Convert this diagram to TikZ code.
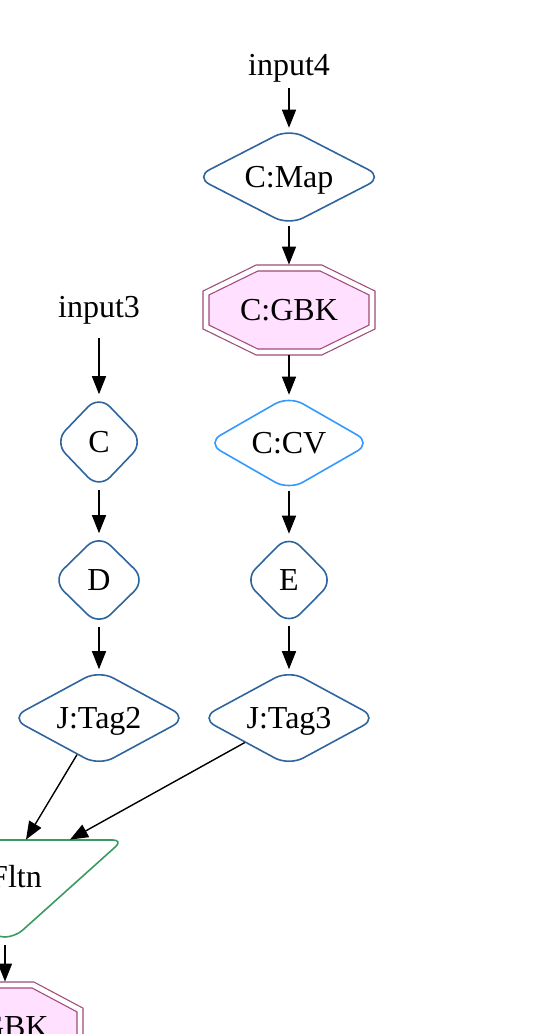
\documentclass[tikz,border=0pt]{standalone}
\usepackage{fontspec}
\setmainfont{Liberation Serif}
\usetikzlibrary{shapes.geometric,arrows.meta}
\definecolor{dblue}{HTML}{2F659E}
\definecolor{lblue}{HTML}{3399FF}
\definecolor{gbkline}{HTML}{A04A78}
\definecolor{pinkf}{HTML}{FFE0FF}
\definecolor{fgreen}{HTML}{3A9A62}
\tikzset{
  every node/.style={font=\fontsize{16}{19}\selectfont, text height=10.6pt, text depth=0pt, inner sep=0pt},
  rdia/.style={diamond, aspect=2, draw=dblue, line width=0.8pt, rounded corners=8pt},
  conn/.style={-{Triangle[length=9pt,width=7pt]}, line width=0.7pt},
  octa/.style={fill=pinkf, draw=gbkline, double=white, double distance=2.4pt, line width=0.6pt},
  gbkbox/.style={rectangle, minimum width=86pt, minimum height=45pt},
  inp/.style={anchor=base, text depth=3pt},
  fltnshape/.style={draw=fgreen, line width=0.8pt, rounded corners=5pt},
}
\newcommand\octo[5]{%
  \filldraw[octa, shift={#1}] (-#3,-#4) -- (#3,-#4) -- (#2,-#5) -- (#2,#5) -- (#3,#4) -- (-#3,#4) -- (-#2,#5) -- (-#2,-#5) -- cycle;}
\begin{document}
\begin{tikzpicture}[x=0.5pt, y=-0.5pt]
\useasboundingbox (0,0) rectangle (536,1034);
\clip (0,0) rectangle (536,1034);
% right column
\node[inp, inner ysep=3.5pt] (in4) at (289,75) {input4};
\node[rdia, minimum width=94pt, minimum height=48.5pt] (map) at (289,177) {C:Map};
\octo{(289,310)}{83}{32}{42}{17}
\node[gbkbox] (gbk1) at (289,310) {C:GBK};
\node[rdia, draw=lblue, minimum width=82.5pt, minimum height=47.5pt] (cv) at (289,443) {C:CV};
\node[rdia, minimum width=45pt, minimum height=45.5pt] (e) at (289,580) {E};
\node[rdia, minimum width=88.5pt, minimum height=48pt] (tag3) at (289,718) {J:Tag3};
% left column
\node[inp, inner ysep=7.5pt] (in3) at (99,317) {input3};
\node[rdia, minimum width=45pt, minimum height=47pt] (c) at (99,442) {C};
\node[rdia, minimum width=47pt, minimum height=46pt] (d) at (99,580) {D};
\node[rdia, minimum width=88.5pt, minimum height=48pt] (tag2) at (99,718) {J:Tag2};
% Fltn
\draw[fltnshape] (-113,840) -- (123,840) -- (15,937) -- (-5,937) -- cycle;
\node[rectangle, minimum width=118pt, minimum height=48.5pt] (fltn) at (5,888.5) {};
\node (fltnlabel) at (16,877) {Fltn};
% bottom GBK
\octo{(5,1027)}{75}{28}{42}{17}
\node[gbkbox, minimum width=78pt] (gbk2) at (5,1027) {};
\node[anchor=east] (gbk2label) at (49,1027) {GBK};
% connectors
\draw[conn] (in4) -- (map);
\draw[conn] (map) -- (gbk1);
\draw[conn] (gbk1) -- (cv);
\draw[conn] (cv) -- (e);
\draw[conn] (e) -- (tag3);
\draw[conn] (in3) -- (c);
\draw[conn] (c) -- (d);
\draw[conn] (d) -- (tag2);
\draw[conn] (tag2) -- ([xshift=10.5pt]fltn.north);
\draw[conn] (tag3) -- ([xshift=32.5pt]fltn.north);
\draw[conn, shorten <=4pt] (fltn) -- (gbk2);
\end{tikzpicture}
\end{document}
